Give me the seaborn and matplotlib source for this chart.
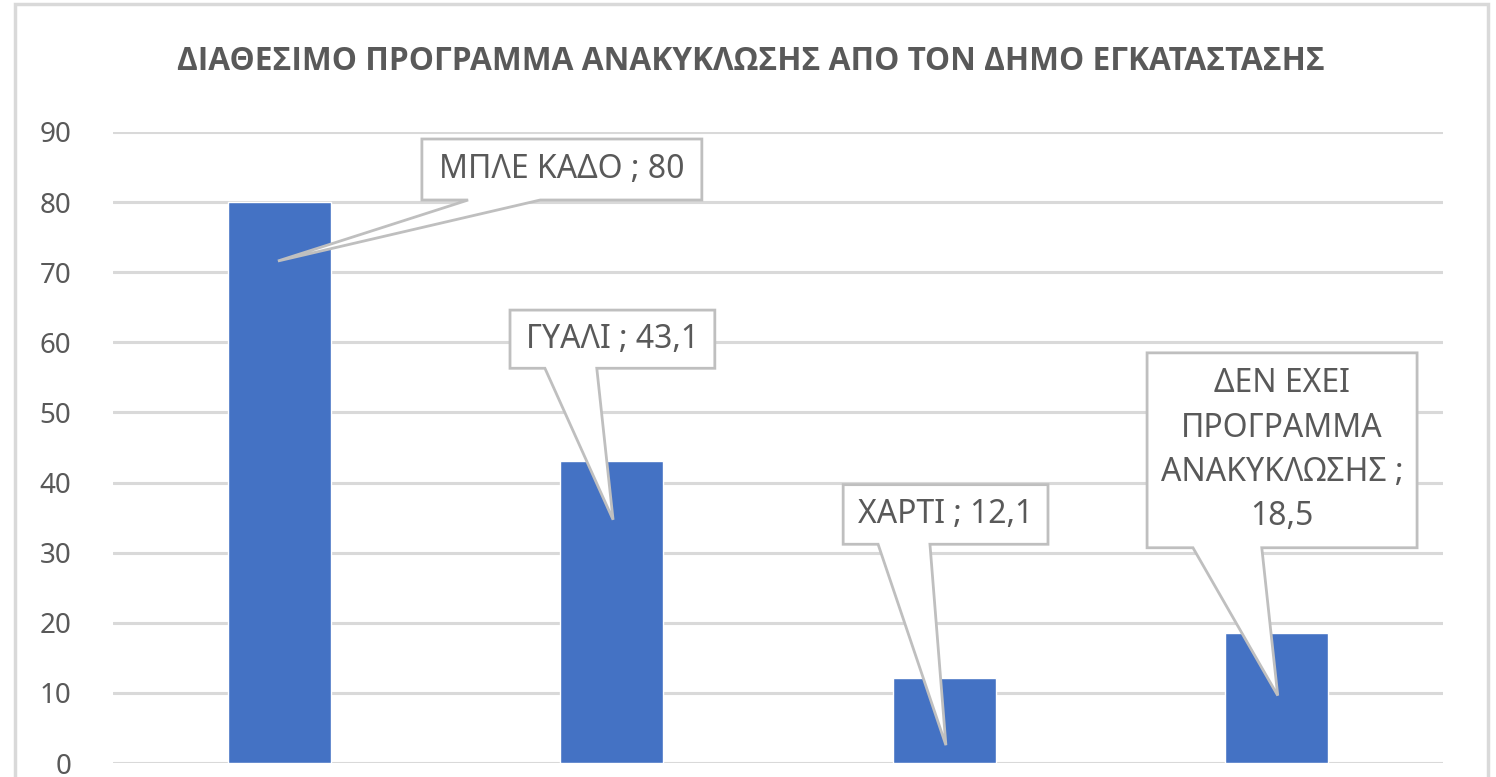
import matplotlib.pyplot as plt
import matplotlib.patches as mpatches
import seaborn as sns
import pandas as pd

# chart data
categories = ["ΜΠΛΕ ΚΑΔΟ", "ΓΥΑΛΙ", "ΧΑΡΤΙ", "ΔΕΝ ΕΧΕΙ ΠΡΟΓΡΑΜΜΑ ΑΝΑΚΥΚΛΩΣΗΣ"]
values = [80, 43.1, 12.1, 18.5]
label_texts = ["ΜΠΛΕ ΚΑΔΟ ; 80", "ΓΥΑΛΙ ; 43,1", "ΧΑΡΤΙ ; 12,1",
               "ΔΕΝ ΕΧΕΙ\nΠΡΟΓΡΑΜΜΑ\nΑΝΑΚΥΚΛΩΣΗΣ ;\n18,5"]
title = "ΔΙΑΘΕΣΙΜΟ ΠΡΟΓΡΑΜΜΑ ΑΝΑΚΥΚΛΩΣΗΣ ΑΠΟ ΤΟΝ ΔΗΜΟ ΕΓΚΑΤΑΣΤΑΣΗΣ"
yticks = list(range(0, 100, 10))

# callout layout: box left/right (relative to bar), box top/bottom,
# wedge base left/right (relative to bar), tip x (relative), tip height as share of bar
callouts = [
    (0.429, 1.271, 89.0, 80.3, 0.568, 0.785, -0.004, 0.895),
    (-0.306, 0.310, 64.6, 56.3, -0.201, -0.045, 0.004, 0.805),
    (-0.304, 0.312, 39.7, 31.2, -0.199, -0.043, 0.005, 0.21),
    (-0.390, 0.422, 58.5, 30.7, -0.252, -0.045, 0.003, 0.52),
]

sns.set_theme(style="white")
plt.rcParams['font.family'] = ['Noto Sans', 'DejaVu Sans']

df = pd.DataFrame({"cat": categories, "val": values})

fig = plt.figure(figsize=(14.96, 7.77), dpi=100)
ax = fig.add_axes([113 / 1496, 14 / 777, 1330 / 1496, (763 - 132) / 777])

sns.barplot(data=df, x="cat", y="val", color="#4472C4", width=0.31,
            saturation=1, ax=ax, zorder=2)

ax.set_ylim(0, 90)
ax.set_xlim(-0.5, 3.5)
ax.set_yticks(yticks)
ax.set_yticklabels([str(t) for t in yticks], fontsize=20, color="#595959")
ax.tick_params(axis='y', length=0, pad=30)
ax.tick_params(axis='x', length=0, labelbottom=False)
ax.set_xlabel("")
ax.set_ylabel("")
ax.grid(axis='y', color="#d9d9d9", lw=2.2, zorder=0)
ax.set_axisbelow(True)
for s in ax.spines.values():
    s.set_visible(False)

# callouts
for i, (val, txt, c) in enumerate(zip(values, label_texts, callouts)):
    bl, br, bt, bb, wl, wr, tx, tf = c
    pts = [
        (i + bl, bt), (i + br, bt), (i + br, bb), (i + wr, bb),
        (i + tx, val * tf), (i + wl, bb), (i + bl, bb),
    ]
    poly = mpatches.Polygon(pts, closed=True, facecolor="white",
                            edgecolor="#bfbfbf", lw=2, zorder=5, clip_on=False)
    ax.add_patch(poly)
    ax.text(i + (bl + br) / 2, (bt + bb) / 2, txt, ha="center", va="center",
            fontsize=23, color="#595959", zorder=6, linespacing=1.45)

fig.text(0.502, 1 - 61 / 777, title, ha="center", va="center",
         fontsize=22.8, fontweight="bold", color="#595959",
         family=['Open Sans', 'DejaVu Sans'])

# chart outer border
fig.patches.append(mpatches.Rectangle((15 / 1496, -0.1), (1488 - 15) / 1496, 1 - 4 / 777 + 0.1,
                                      transform=fig.transFigure, fill=False,
                                      edgecolor="#d9d9d9", lw=2.5))

fig.savefig("out.png", dpi=100)
